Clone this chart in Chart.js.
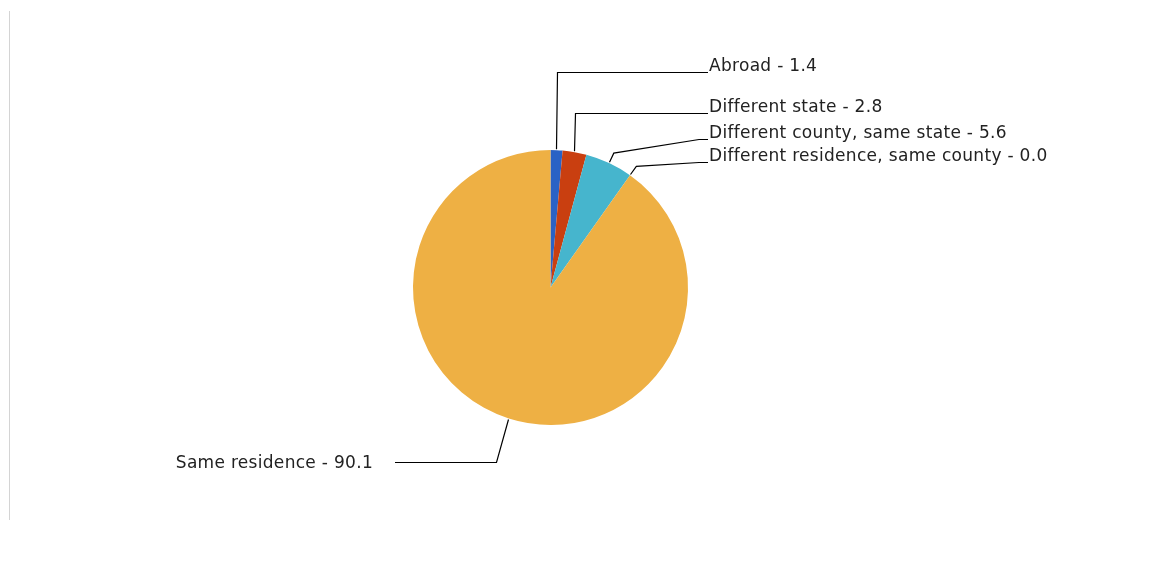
<!DOCTYPE html>
<html>
<head>
<meta charset="utf-8">
<script src="https://cdn.jsdelivr.net/npm/chart.js@4.4.1/dist/chart.umd.min.js"></script>
<style>
  html, body { margin: 0; padding: 0; background: #fff; }
  #wrap { position: relative; width: 1165px; height: 561px; }
  #rule { position: absolute; left: 9px; top: 11px; width: 1px; height: 509px; background: #d4d4d4; }
</style>
</head>
<body>
<div id="wrap">
  <div id="rule"></div>
  <canvas id="pie"></canvas>
</div>
<script>
// 数据
const categories = ['Abroad', 'Different state', 'Different county, same state', 'Different residence, same county', 'Same residence'];
const shares = [1.4, 2.8, 5.6, 0.0, 90.1];
const sliceColors = ['#2a62c5', '#c93f10', '#46b5cd', '#7fb04a', '#eeb044'];

// 标签位置（版式）
const labelLineY = [72, 113, 139, 162, 462];
const labelSide = ['right', 'right', 'right', 'right', 'left'];

// 引线 + 标签
const leaderLabels = {
  id: 'leaderLabels',
  afterDatasetsDraw(chart) {
    const { ctx } = chart;
    const meta = chart.getDatasetMeta(0);
    ctx.save();
    ctx.strokeStyle = '#000';
    ctx.lineWidth = 1.2;
    ctx.fillStyle = '#222';
    ctx.font = '17px "DejaVu Sans"';
    ctx.letterSpacing = '0.3px';
    meta.data.forEach((arc, i) => {
      const { x, y, startAngle, endAngle, outerRadius } = arc.getProps(['x', 'y', 'startAngle', 'endAngle', 'outerRadius'], true);
      const mid = (startAngle + endAngle) / 2;
      const p0 = { x: x + Math.cos(mid) * (outerRadius + 1), y: y + Math.sin(mid) * (outerRadius + 1) };
      const ly = labelLineY[i];
      const text = categories[i] + ' - ' + shares[i].toFixed(1);
      ctx.beginPath();
      if (labelSide[i] === 'right') {
        const textX = 709;
        ctx.moveTo(Math.round(p0.x) - 0.5, p0.y);
        if (ly < p0.y - 25) {
          ctx.lineTo(Math.round(p0.x + 1) - 0.5, ly + 0.5);
          ctx.lineTo(textX - 1, ly + 0.5);
        } else {
          const kx = p0.x + Math.cos(mid) * 10;
          const ky = p0.y + Math.sin(mid) * 10;
          ctx.lineTo(kx, ky);
          ctx.lineTo(textX - 10, ly + 0.5);
          ctx.lineTo(textX - 1, ly + 0.5);
        }
        ctx.stroke();
        ctx.textAlign = 'left';
        ctx.textBaseline = 'alphabetic';
        ctx.fillText(text, textX, ly - 1);
      } else {
        const textRight = 373;
        ctx.moveTo(p0.x, p0.y);
        ctx.lineTo(p0.x - 12, ly + 0.5);
        ctx.lineTo(textRight + 22, ly + 0.5);
        ctx.stroke();
        ctx.textAlign = 'right';
        ctx.textBaseline = 'alphabetic';
        ctx.fillText(text, textRight, ly + 6);
      }
    });
    ctx.restore();
  }
};

new Chart(document.getElementById('pie'), {
  type: 'pie',
  data: {
    labels: categories,
    datasets: [{
      data: shares,
      backgroundColor: sliceColors,
      borderWidth: 0,
      hoverOffset: 0
    }]
  },
  plugins: [leaderLabels],
  options: {
    responsive: true,
    maintainAspectRatio: false,
    animation: false,
    layout: { padding: { top: 150, bottom: 136, left: 413, right: 477 } },
    plugins: {
      legend: { display: false },
      tooltip: { enabled: false }
    }
  }
});
</script>
</body>
</html>
